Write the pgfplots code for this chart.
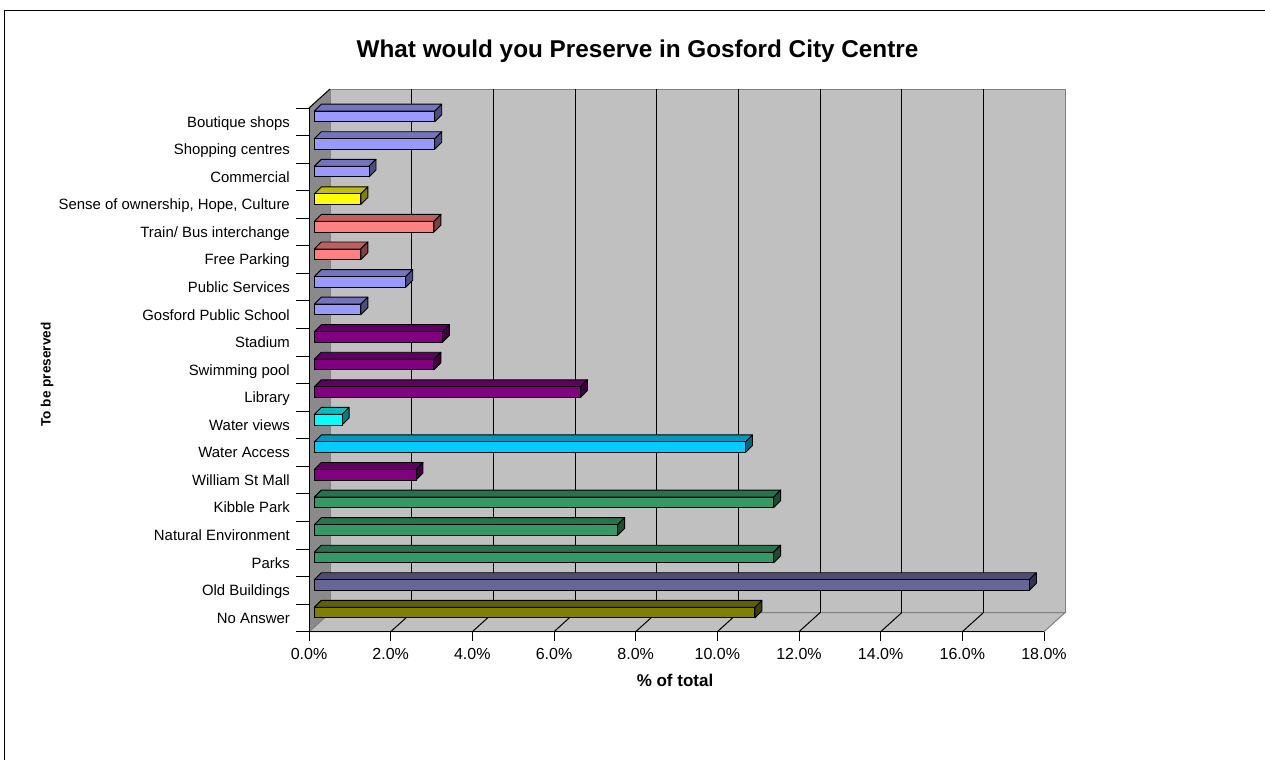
\documentclass[border=0pt]{standalone}
\usepackage{fontspec}
\setmainfont{Liberation Sans}
\usepackage{pgfplots}
\pgfplotsset{compat=1.18}
\usepackage{pgfplotstable}

\definecolor{wallback}{HTML}{C0C0C0}
\definecolor{wallborder}{HTML}{808080}
\definecolor{leftwall}{HTML}{8A8A8A}
\definecolor{lavF}{HTML}{9999FF}\definecolor{lavT}{HTML}{7373BF}\definecolor{lavS}{HTML}{4D4D80}
\definecolor{yelF}{HTML}{FFFF00}\definecolor{yelT}{HTML}{BFBF00}\definecolor{yelS}{HTML}{808000}
\definecolor{salF}{HTML}{FF8080}\definecolor{salT}{HTML}{BF6060}\definecolor{salS}{HTML}{804040}
\definecolor{purF}{HTML}{800080}\definecolor{purT}{HTML}{600060}\definecolor{purS}{HTML}{400040}
\definecolor{cyaF}{HTML}{00FFFF}\definecolor{cyaT}{HTML}{00BFBF}\definecolor{cyaS}{HTML}{008080}
\definecolor{skyF}{HTML}{00CCFF}\definecolor{skyT}{HTML}{0099BF}\definecolor{skyS}{HTML}{006680}
\definecolor{grnF}{HTML}{339966}\definecolor{grnT}{HTML}{26734D}\definecolor{grnS}{HTML}{1A4D33}
\definecolor{slaF}{HTML}{666699}\definecolor{slaT}{HTML}{4D4D73}\definecolor{slaS}{HTML}{33334D}
\definecolor{oliF}{HTML}{808000}\definecolor{oliT}{HTML}{606000}\definecolor{oliS}{HTML}{404000}

% y index (0 = bottom category), v = % of total
\pgfplotstableread{
y v
18 2.95
17 2.95
16 1.34
12 2.24
11 1.14
}\lavdata
\pgfplotstableread{
y v
15 1.14
}\yeldata
\pgfplotstableread{
y v
14 2.93
13 1.14
}\saldata
\pgfplotstableread{
y v
10 3.14
9 2.93
8 6.52
5 2.49
}\purdata
\pgfplotstableread{
y v
7 0.68
}\cyadata
\pgfplotstableread{
y v
6 10.56
}\skydata
\pgfplotstableread{
y v
4 11.25
3 7.43
2 11.25
}\grndata
\pgfplotstableread{
y v
1 17.51
}\sladata
\pgfplotstableread{
y v
0 10.79
}\olidata

\pgfplotsset{
  box3d/.style n args={3}{
    only marks, mark=*, mark size=0pt, mark options={draw=none,fill=none},
    scatter, point meta=explicit symbolic,
    scatter/@pre marker code/.code={%
      \dimen0=\pgfplotspointmeta pt\relax
      \dimen0=40.8333\dimen0
      \dimen2=5.3pt\relax
      \advance\dimen2 by -\dimen0
      \edef\xa{\the\dimen2}%
      \advance\dimen2 by 7pt\relax
      \edef\xb{\the\dimen2}%
      \filldraw[fill=#2,draw=black,line width=0.9pt,line join=round] (\xa,10.6pt) -- (5.3pt,10.6pt) -- (12.3pt,17.6pt) -- (\xb,17.6pt) -- cycle;
      \filldraw[fill=#3,draw=black,line width=0.9pt,line join=round] (5.3pt,0pt) -- (12.3pt,7pt) -- (12.3pt,17.6pt) -- (5.3pt,10.6pt) -- cycle;
      \filldraw[fill=#1,draw=black,line width=0.9pt,line join=round] (\xa,0pt) rectangle (5.3pt,10.6pt);
    },
    scatter/@post marker code/.code={},
  },
}

\begin{document}
\begin{tikzpicture}
\useasboundingbox (0pt,0pt) rectangle (1265pt,-760pt);
\draw[line width=1pt] (4pt,-760pt) -- (4pt,-11pt) -- (1265pt,-11pt);

\begin{axis}[
  at={(309pt,-631.7pt)}, anchor=south west,
  scale only axis, width=735pt, height=523.7pt,
  xmin=0, xmax=18, ymin=-0.5, ymax=18.5,
  clip=false,
  axis line style={draw=none},
  tick style={draw=none},
  /pgf/number format/assume math mode=true,
  xtick={0,2,...,18},
  xticklabel={\pgfmathprintnumber[fixed,fixed zerofill,precision=1]{\tick}\%},
  xticklabel style={font=\fontsize{16}{18}\selectfont, anchor=base, yshift=-27.3pt, inner sep=0pt},
  ytick={0,1,...,18},
  yticklabels={No Answer,{Old Buildings\hspace{4pt}},Parks,Natural Environment,Kibble Park,William St Mall,Water Access,Water views,Library,Swimming pool,Stadium,Gosford Public School,Public Services,Free Parking,Train/ Bus interchange,{Sense of ownership, Hope, Culture},Commercial,Shopping centres,Boutique shops},
  yticklabel style={font=\fontsize{14.9}{17}\selectfont, anchor=base east, inner sep=0pt, xshift=-19pt, yshift=-5.3pt},
]
% walls
\filldraw[fill=wallback, draw=wallborder, line width=1pt] ([shift={(21pt,19pt)}]axis cs:0,-0.5) rectangle ([shift={(21pt,19pt)}]axis cs:18,18.5);
\filldraw[fill=wallback, draw=wallborder, line width=1pt] (axis cs:0,-0.5) -- (axis cs:18,-0.5) -- ([shift={(21pt,19pt)}]axis cs:18,-0.5) -- ([shift={(21pt,19pt)}]axis cs:0,-0.5) -- cycle;
\fill[leftwall] (axis cs:0,-0.5) -- (axis cs:0,18.5) -- ([shift={(21pt,19pt)}]axis cs:0,18.5) -- ([shift={(21pt,19pt)}]axis cs:0,-0.5) -- cycle;
\draw[wallborder, line width=1pt] (axis cs:0,-0.5) -- ([shift={(21pt,19pt)}]axis cs:0,-0.5);
\draw[black, line width=1pt] (axis cs:0,18.5) -- ([shift={(21pt,19pt)}]axis cs:0,18.5);
\pgfplotsinvokeforeach{2,4,...,16}{
  \draw[black, line width=1pt] ([shift={(21pt,19pt)}]axis cs:#1,-0.5) -- ([shift={(21pt,19pt)}]axis cs:#1,18.5);
  \draw[black, line width=1pt] (axis cs:#1,-0.5) -- ([shift={(21pt,19pt)}]axis cs:#1,-0.5);
}
\draw[black, line width=1pt] (axis cs:0,18.5) -- (axis cs:0,-0.5) -- (axis cs:18,-0.5);
\pgfplotsinvokeforeach{0,2,...,18}{
  \draw[black, line width=1pt] (axis cs:#1,-0.5) -- ([yshift=-9.3pt]axis cs:#1,-0.5);
}
\pgfplotsinvokeforeach{-0.5,0.5,...,18.5}{
  \draw[black, line width=1pt] (axis cs:0,#1) -- ([xshift=-13pt]axis cs:0,#1);
}

\addplot[box3d={lavF}{lavT}{lavS}] table[x=v,y=y,meta=v] {\lavdata};
\addplot[box3d={yelF}{yelT}{yelS}] table[x=v,y=y,meta=v] {\yeldata};
\addplot[box3d={salF}{salT}{salS}] table[x=v,y=y,meta=v] {\saldata};
\addplot[box3d={purF}{purT}{purS}] table[x=v,y=y,meta=v] {\purdata};
\addplot[box3d={cyaF}{cyaT}{cyaS}] table[x=v,y=y,meta=v] {\cyadata};
\addplot[box3d={skyF}{skyT}{skyS}] table[x=v,y=y,meta=v] {\skydata};
\addplot[box3d={grnF}{grnT}{grnS}] table[x=v,y=y,meta=v] {\grndata};
\addplot[box3d={slaF}{slaT}{slaS}] table[x=v,y=y,meta=v] {\sladata};
\addplot[box3d={oliF}{oliT}{oliS}] table[x=v,y=y,meta=v] {\olidata};
\end{axis}

\node[font=\fontsize{24.3}{28}\selectfont\bfseries, anchor=base] at (637.5pt,-57.8pt) {What would you Preserve in Gosford City Centre};
\node[font=\fontsize{17}{20}\selectfont\bfseries, anchor=base] at (675pt,-686.7pt) {\% of total};
\node[font=\fontsize{13.6}{16}\selectfont\bfseries, rotate=90] at (47pt,-374.5pt) {To be preserved};
\end{tikzpicture}
\end{document}
